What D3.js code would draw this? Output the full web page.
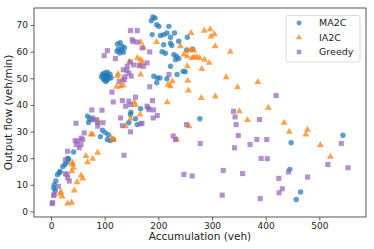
<!DOCTYPE html>
<html>
<head>
<meta charset="utf-8">
<script src="https://cdn.jsdelivr.net/npm/d3@7"></script>
<style>
  body { margin: 0; background: #fff; }
  svg { font-family: "DejaVu Sans", sans-serif; }
</style>
</head>
<body>
<svg width="374" height="249"></svg>
<script>
// series: [accumulation (veh), output flow (veh/min)]
const ma2c = [
  [5,8.8],[8,7.9],[6,10],[9,11.4],[12,13.8],[15.5,14.5],[17,15],[22,16.9],[26,17.6],[30,18.5],
  [31,20],[33,19.6],[42,22.3],[68,35.8],[70,33.4],[72,34.8],[77.5,34.5],[87,33.3],[92,28.1],[96,30.5],
  [101,29.6],[105,27],[107,28.8],[110,26.6],[116,27],
  [94,50.5],[96,51.5],[98,49.5],[100,52],[101,50],[103,51],[104,49.3],[106,50.8],[108,50],[110,51.5],
  [112,50.2],[99,50.8],[105,52.3],[102,48.8],
  [124,62.9],[129,63.4],[126,61],[131,60.5],[133,62],[135,59.8],[128,59.5],[137,61.5],[123,60.2],
  [145,33.3],[148,36.4],[149,37.3],[157.5,34.8],[160.7,32.6],[167,38.6],[181,38.9],
  [187,71.6],[190,73],[194,72.6],[197,70.1],[201,69.5],[219.7,69.5],[188.6,66.4],[204,66.1],[210,66.4],
  [216,67],[222.7,65.4],[230,67],[238,63.9],[222.7,63.2],[254,65.4],[210,62.6],[225,62.3],[229,58.9],
  [234,58.3],[238,57.4],[232,57],[246,52.6],[235,51.4],[222.7,54.5],[191.6,50.8],[198,50.1],[203,50.1],
  [197,48.3],[207,60],[213,59.4],[216,49.8],[253,60.6],[264,60.9],[250,52.5],
  [277.5,34.8],[447.5,25.8],[445,15.8],[465,7.3],[457,4.5],[544,28.6]
];
const ia2c = [
  [17,6.6],[18.6,7.3],[20.5,5.6],[31,3],[38.4,3.3],[43.4,7.9],[48.4,11],[56,13.5],[59,12.4],
  [40,17.6],[41.8,16.4],[39,15.1],[40,18.3],[65,20.8],[68,18.5],[77.5,19.8],[87,22],[74.5,29],[77.5,28.9],
  [88,34],[113,27.5],[116.6,26.9],
  [123.5,50.8],[125,51.6],[133,49.5],[129.6,47],[134.6,47.4],[122,46.8],[146,56.2],[161,57.6],[167,57],
  [170,55.8],[166,54.5],[167,51.4],[167,63.5],[172,61.6],[196.7,63.6],[155,41],[157,40],[139,32],
  [148,34.8],[166,36.4],[216.6,41],[218,47.6],[222.7,47],[226,48.9],[234,27],
  [241,62],[247.7,58.9],[254,58.3],[263,57.6],[272,57.9],[276.7,57.6],[255,60.4],[261,60.7],[266,60.4],
  [261,67],[254,54.5],[255,49.1],[256,45.4],[257,32],[267,58],
  [285.5,67.9],[296.6,68.4],[304.5,66.5],[298,65.7],[306,62],[334,60],[286,57],[295,55.8],[281,53.5],
  [326.5,50.4],[347.5,46.6],[385.5,48.6],[306,43.2],[280,42.6],[405,38.9],[351,37.6],[366,34.3],
  [434.5,33.3],[444,29.9],[478,30.7],[475,28.9],[502,24.9],[520.7,20.5]
];
const greedy = [
  [2,2.9],[3,3.3],[5,6],[6,6.4],[14,9.4],[26.6,14.1],[30,13.9],[31,12.6],[34,11.4],[26.6,19.4],
  [31,22.6],[45,26.6],[47,25.1],[49.5,26.4],[52.7,23.9],[56,25.1],[56,27.5],[59,27],[46.6,33.1],[62,29.5],
  [76,38.1],[77.5,35.1],[84,34.5],[87,32],[95,38],[97,33.3],[113.6,44.8],[116,41.1],
  [148,67.9],[160.7,67.9],[151.4,64.5],[153,63.8],[160.7,63.6],[170,61.4],[184,59.9],[105,60.4],[99,58.5],
  [120,57.4],[148,56.1],[142,54.5],[134.6,53.2],[145,52],[149.5,50.8],[138,50.6],[136.5,49.4],[127,48.8],
  [141,53],[164,54.9],[172,54.5],[179,55.8],[154,55],[219.7,51.4],[184,46.8],
  [133,41.6],[145,41.4],[148,40.1],[139,39.5],[157.5,42.9],[179,39.5],[182.5,38.2],[189,41.6],[191,38.1],
  [129.6,35.1],[133,32.2],[148,29.9],[136,21.1],[167,32.9],[169.5,33.1],[190.5,35.1],[198,36],
  [227.7,28.3],[232,27],[252.5,32.6],[247.6,13.9],[263,13.3],[278,25.5],
  [419.6,43.5],[340,37.6],[343,35.5],[345,32.6],[388.5,34.5],[349,28.5],[383.6,27],[402,27],[371,25.1],
  [342,23.9],[391.5,19.9],[403,19.8],[321,15.4],[357,14.2],[424.6,12.4],[431,8.5],[425,7],[319,6.1],
  [390,4.8],[541,25.5],[516,17.6],[553.6,16.4],[442.5,14.8],[478,12.9]
];

const xTicks = [0, 100, 200, 300, 400, 500];
const yTicks = [0, 10, 20, 30, 40, 50, 60, 70];

const series = [
  {name: "MA2C", data: ma2c, color: "#1f77b4", symbol: d3.symbolCircle, size: 23},
  {name: "IA2C", data: ia2c, color: "#ff7f0e", symbol: d3.symbolTriangle, size: 21},
  {name: "Greedy", data: greedy, color: "#9467bd", symbol: d3.symbolSquare, size: 26}
];

const svg = d3.select("svg");
const plotLeft = 34, plotRight = 366, plotTop = 8, plotBottom = 217;

const x = d3.scaleLinear().domain([-31.7, 587]).range([plotLeft, plotRight]);
const y = d3.scaleLinear().domain([-2.1, 76.4]).range([plotBottom, plotTop]);

// points
series.forEach(s => {
  svg.append("g")
    .selectAll("path")
    .data(s.data)
    .enter()
    .append("path")
    .attr("d", d3.symbol().type(s.symbol).size(s.size))
    .attr("transform", d => `translate(${x(d[0])},${y(d[1])})`)
    .attr("fill", s.color)
    .attr("fill-opacity", 0.72);
});

// axes
const xAxis = svg.append("g")
  .attr("transform", `translate(0,${plotBottom})`)
  .call(d3.axisBottom(x).tickValues(xTicks).tickSize(3.5).tickPadding(2.5));
const yAxis = svg.append("g")
  .attr("transform", `translate(${plotLeft},0)`)
  .call(d3.axisLeft(y).tickValues(yTicks).tickSize(3.5).tickPadding(2.5));

[xAxis, yAxis].forEach(g => {
  g.select(".domain").remove();
  g.selectAll("line").attr("stroke", "#333").attr("stroke-width", 0.8);
  g.selectAll("text").attr("fill", "#222").style("font-size", "9px").style("font-family", "DejaVu Sans");
});

// frame
svg.append("rect")
  .attr("x", plotLeft).attr("y", plotTop)
  .attr("width", plotRight - plotLeft).attr("height", plotBottom - plotTop)
  .attr("fill", "none").attr("stroke", "#444").attr("stroke-width", 0.9);

// axis labels
svg.append("text")
  .attr("x", (plotLeft + plotRight) / 2).attr("y", 240)
  .attr("text-anchor", "middle")
  .style("font-size", "10.5px")
  .attr("fill", "#222")
  .text("Accumulation (veh)");

svg.append("text")
  .attr("transform", `translate(12,${(plotTop + plotBottom) / 2}) rotate(-90)`)
  .attr("text-anchor", "middle")
  .style("font-size", "10.5px")
  .attr("fill", "#222")
  .text("Output flow (veh/min)");

// legend
const legend = svg.append("g");
legend.append("rect")
  .attr("x", 286).attr("y", 15.5)
  .attr("width", 74).attr("height", 46.5)
  .attr("rx", 2)
  .attr("fill", "#fff").attr("fill-opacity", 0.8)
  .attr("stroke", "#d0d0d0").attr("stroke-width", 0.8);

series.forEach((s, i) => {
  const ly = 23 + i * 14.5;
  legend.append("path")
    .attr("d", d3.symbol().type(s.symbol).size(s.size * 0.8))
    .attr("transform", `translate(299,${ly})`)
    .attr("fill", s.color)
    .attr("fill-opacity", 0.72);
  legend.append("text")
    .attr("x", 319).attr("y", ly + 3.4)
    .style("font-size", "9.5px")
    .attr("fill", "#222")
    .text(s.name);
});
</script>
</body>
</html>
